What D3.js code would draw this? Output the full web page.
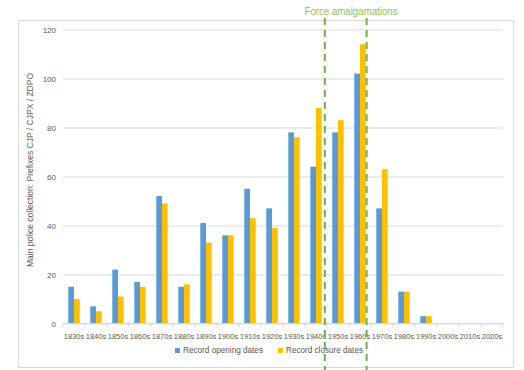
<!DOCTYPE html>
<html>
<head>
<meta charset="utf-8">
<script src="https://cdn.jsdelivr.net/npm/d3@7"></script>
<style>
  body { margin: 0; background: #fff; }
  svg { font-family: "Liberation Sans", Arial, sans-serif; }
</style>
</head>
<body>
<div id="chart"></div>
<script>
// decades on the x axis
const decades = ["1830s", "1840s", "1850s", "1860s", "1870s", "1880s", "1890s", "1900s", "1910s", "1920s",
    "1930s", "1940s", "1950s", "1960s", "1970s", "1980s", "1990s", "2000s", "2010s", "2020s"];
const openingDates = [15, 7, 22, 17, 52, 15, 41, 36, 55, 47, 78, 64, 78, 102, 47, 13, 3, 0, 0, 0];
const closureDates = [10, 5, 11, 15, 49, 16, 33, 36, 43, 39, 76, 88, 83, 114, 63, 13, 3, 0, 0, 0];
const seriesNames = ["Record opening dates", "Record closure dates"];
const yTicks = [0, 20, 40, 60, 80, 100, 120];
const amalgamationYears = [1949, 1968];

const width = 524, height = 370;
const margin = {top: 30, right: 19, bottom: 46, left: 63};
const colors = ["#5b9bd5", "#ffc000"];

const svg = d3.select("#chart").append("svg")
    .attr("width", width)
    .attr("height", height);

// outer chart frame
svg.append("rect")
    .attr("x", 18.5).attr("y", 20.5)
    .attr("width", 495).attr("height", 347)
    .attr("fill", "none")
    .attr("stroke", "#d9d9d9");

const x0 = d3.scaleBand()
    .domain(decades)
    .range([margin.left, width - margin.right - 2])
    .paddingInner(0.48)
    .paddingOuter(0.24);

const x1 = d3.scaleBand()
    .domain(seriesNames)
    .range([0, x0.bandwidth()]);

const y = d3.scaleLinear()
    .domain([0, 120])
    .range([323.5, 29.5]);

// year scale for the dashed marker lines
const yearScale = d3.scaleLinear()
    .domain([1830, 2030])
    .range([margin.left, width - margin.right - 2]);

// gridlines + y labels
const yAxis = svg.append("g")
    .attr("transform", `translate(${margin.left},0)`)
    .call(d3.axisLeft(y).tickValues(yTicks).tickSize(-(width - margin.right - 2 - margin.left)).tickPadding(7));
yAxis.select(".domain").remove();
yAxis.selectAll(".tick line").attr("stroke", "#d9d9d9");
yAxis.selectAll(".tick text").attr("fill", "#595959").attr("font-size", 8);

// bars
const rows = decades.map((d, i) => ({decade: d, values: [openingDates[i], closureDates[i]]}));
svg.append("g").selectAll("g")
    .data(rows)
    .join("g")
    .attr("transform", d => `translate(${x0(d.decade)},0)`)
    .selectAll("rect")
    .data(d => d.values.map((v, j) => ({key: seriesNames[j], value: v, j})))
    .join("rect")
    .attr("x", d => x1(d.key))
    .attr("y", d => y(d.value))
    .attr("width", x1.bandwidth())
    .attr("height", d => y(0) - y(d.value))
    .attr("fill", d => colors[d.j]);

// x axis with ticks between categories
const step = x0.step();
const xAxis = svg.append("g").attr("transform", `translate(0,${y(0)})`);
xAxis.append("line")
    .attr("x1", margin.left).attr("x2", width - margin.right - 2)
    .attr("stroke", "#d9d9d9");
xAxis.selectAll("line.tk")
    .data(d3.range(decades.length + 1))
    .join("line")
    .attr("class", "tk")
    .attr("x1", i => margin.left + i * step)
    .attr("x2", i => margin.left + i * step)
    .attr("y1", 0).attr("y2", 4)
    .attr("stroke", "#d9d9d9");
xAxis.selectAll("text")
    .data(decades)
    .join("text")
    .attr("x", d => x0(d) + x0.bandwidth() / 2)
    .attr("y", 15)
    .attr("text-anchor", "middle")
    .attr("fill", "#595959")
    .attr("font-size", 8)
    .attr("textLength", 20.5)
    .attr("lengthAdjust", "spacingAndGlyphs")
    .text(d => d);

// y axis title
svg.append("text")
    .attr("transform", `translate(33,170) rotate(-90)`)
    .attr("text-anchor", "middle")
    .attr("fill", "#595959")
    .attr("font-size", 8.5)
    .attr("textLength", 194)
    .attr("lengthAdjust", "spacingAndGlyphs")
    .text("Main police collection: Prefixes CJP / CJPX / ZDPO");

// legend
const legendX = [175, 278];
const legend = svg.append("g").selectAll("g")
    .data(seriesNames)
    .join("g")
    .attr("transform", (d, i) => `translate(${legendX[i]},353)`);
legend.append("rect")
    .attr("x", 0).attr("y", -5)
    .attr("width", 5).attr("height", 5)
    .attr("fill", (d, i) => colors[i]);
legend.append("text")
    .attr("x", 8).attr("y", 0)
    .attr("fill", "#595959")
    .attr("font-size", 8.5)
    .attr("textLength", (d, i) => i === 0 ? 80 : 77)
    .attr("lengthAdjust", "spacingAndGlyphs")
    .text(d => d);

// force amalgamation markers
svg.append("g").selectAll("line")
    .data(amalgamationYears)
    .join("line")
    .attr("x1", d => yearScale(d))
    .attr("x2", d => yearScale(d))
    .attr("y1", 18).attr("y2", 370)
    .attr("stroke", "#70ad47")
    .attr("stroke-width", 2)
    .attr("stroke-dasharray", "7,5");

svg.append("text")
    .attr("x", 351).attr("y", 15)
    .attr("text-anchor", "middle")
    .attr("fill", "#8cc152")
    .attr("font-size", 11.5)
    .attr("textLength", 93)
    .attr("lengthAdjust", "spacingAndGlyphs")
    .text("Force amalgamations");
</script>
</body>
</html>
